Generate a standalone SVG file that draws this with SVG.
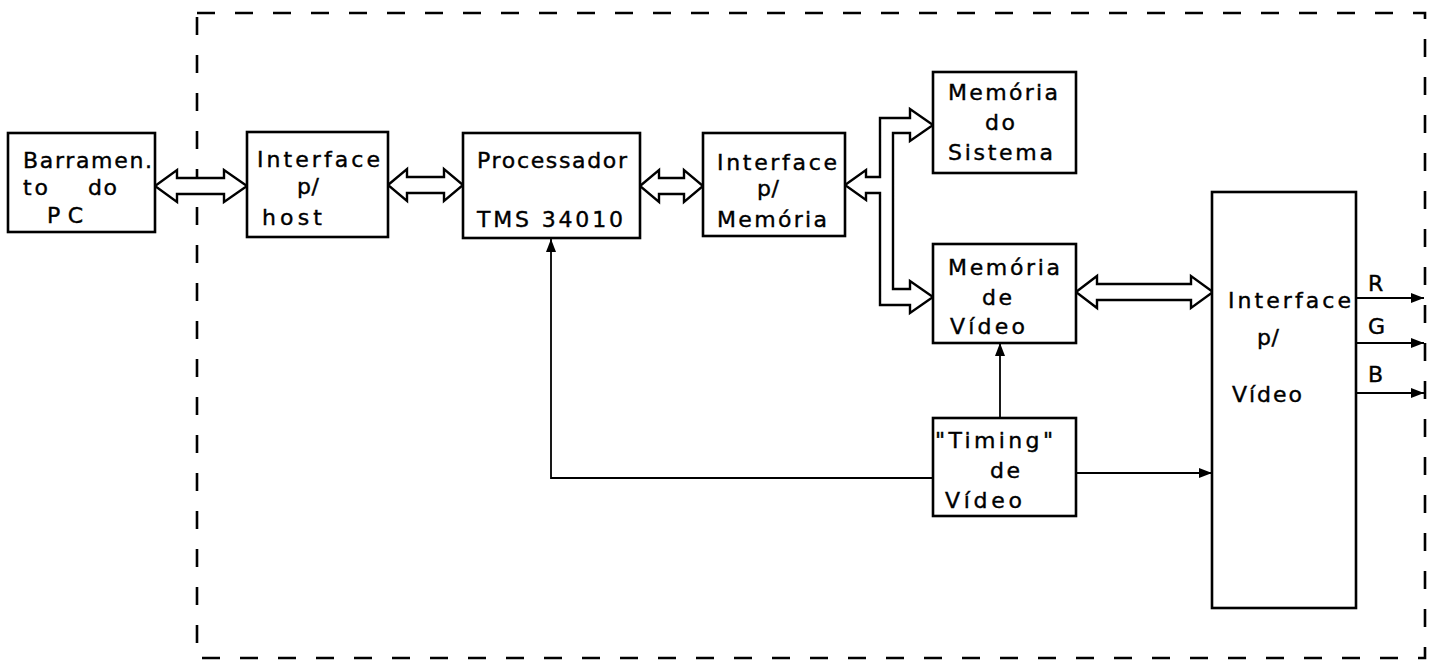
<svg xmlns="http://www.w3.org/2000/svg" width="1438" height="665" viewBox="0 0 1438 665">
<defs>
<style>
.box{fill:#fff;stroke:#000;stroke-width:2.6}
.bus{fill:#fff;stroke:#000;stroke-width:2.4;stroke-linejoin:miter}
.ln{fill:none;stroke:#000;stroke-width:1.8}
.frame{fill:none;stroke:#000;stroke-width:2.6;stroke-dasharray:18 20}
text{font-family:"DejaVu Sans","Liberation Sans",sans-serif;font-size:22px;fill:#000;stroke:#000;stroke-width:0.4}
</style>
<marker id="ah" markerUnits="userSpaceOnUse" markerWidth="14" markerHeight="10" refX="13" refY="5" orient="auto">
<path d="M0,0 L13,5 L0,10 z" fill="#000"/>
</marker>
</defs>
<rect width="1438" height="665" fill="#fff"/>
<g id="frame">
<path class="frame" d="M197,13 H1425 V658 H197 Z"/>
</g>
<g id="connectors">
<polygon class="bus" points="155,186 177,170 177,178 224,178 224,170 247,186 224,202 224,194 177,194 177,202"/>
<polygon class="bus" points="388,185 407,169 407,177 444,177 444,169 463,185 444,201 444,193 407,193 407,201"/>
<polygon class="bus" points="640,186 659,170 659,178 684,178 684,170 703,186 684,202 684,194 659,194 659,202"/>
<polygon class="bus" points="845,185 866,170 866,177 880,177 880,118 910,118 910,109 933,125 910,141 910,133 893,133 893,289 910,289 910,281 933,297 910,313 910,305 880,305 880,193 866,193 866,200"/>
<polygon class="bus" points="1076,292 1097,276 1097,284 1191,284 1191,276 1213,292 1191,308 1191,300 1097,300 1097,308"/>
<polyline class="ln" points="933,478 551,478 551,239" marker-end="url(#ah)"/>
<line class="ln" x1="1000" y1="418" x2="1000" y2="343" marker-end="url(#ah)"/>
<line class="ln" x1="1076" y1="473" x2="1212" y2="473" marker-end="url(#ah)"/>
<line class="ln" x1="1356" y1="298" x2="1424" y2="298" marker-end="url(#ah)"/>
<line class="ln" x1="1356" y1="343" x2="1424" y2="343" marker-end="url(#ah)"/>
<line class="ln" x1="1356" y1="393" x2="1424" y2="393" marker-end="url(#ah)"/>
</g>
<g id="barramento">
<rect class="box" x="8" y="133" width="147" height="99"/>
<text x="23" y="168" textLength="129" lengthAdjust="spacing">Barramen.</text>
<text x="23" y="195" textLength="25" lengthAdjust="spacing">to</text>
<text x="88" y="195" textLength="29" lengthAdjust="spacing">do</text>
<text x="47" y="223" textLength="36" lengthAdjust="spacing">PC</text>
</g>
<g id="interface-host">
<rect class="box" x="247" y="132" width="141" height="105"/>
<text x="257" y="167" textLength="123" lengthAdjust="spacing">Interface</text>
<text x="297" y="194" textLength="22" lengthAdjust="spacing">p/</text>
<text x="262" y="225" textLength="60" lengthAdjust="spacing">host</text>
</g>
<g id="processador">
<rect class="box" x="463" y="133" width="177" height="105"/>
<text x="477" y="168" textLength="150" lengthAdjust="spacing">Processador</text>
<text x="477" y="227" textLength="146" lengthAdjust="spacing">TMS 34010</text>
</g>
<g id="interface-memoria">
<rect class="box" x="703" y="133" width="142" height="103"/>
<text x="717" y="170" textLength="120" lengthAdjust="spacing">Interface</text>
<text x="757" y="196" textLength="22" lengthAdjust="spacing">p/</text>
<text x="717" y="227" textLength="110" lengthAdjust="spacing">Memória</text>
</g>
<g id="memoria-sistema">
<rect class="box" x="933" y="72" width="143" height="101"/>
<text x="948" y="100" textLength="110" lengthAdjust="spacing">Memória</text>
<text x="985" y="130" textLength="30" lengthAdjust="spacing">do</text>
<text x="948" y="160" textLength="105" lengthAdjust="spacing">Sistema</text>
</g>
<g id="memoria-video">
<rect class="box" x="933" y="244" width="143" height="99"/>
<text x="948" y="275" textLength="112" lengthAdjust="spacing">Memória</text>
<text x="982" y="305" textLength="30" lengthAdjust="spacing">de</text>
<text x="950" y="334" textLength="75" lengthAdjust="spacing">Vídeo</text>
</g>
<g id="timing-video">
<rect class="box" x="933" y="418" width="143" height="98"/>
<text x="935" y="448" textLength="118" lengthAdjust="spacing">"Timing"</text>
<text x="990" y="478" textLength="30" lengthAdjust="spacing">de</text>
<text x="945" y="508" textLength="77" lengthAdjust="spacing">Vídeo</text>
</g>
<g id="interface-video">
<rect class="box" x="1212" y="192" width="144" height="416"/>
<text x="1228" y="308" textLength="123" lengthAdjust="spacing">Interface</text>
<text x="1257" y="345" textLength="22" lengthAdjust="spacing">p/</text>
<text x="1232" y="402" textLength="70" lengthAdjust="spacing">Vídeo</text>
</g>
<g id="rgb-labels">
<text x="1368" y="291">R</text>
<text x="1368" y="334">G</text>
<text x="1368" y="382">B</text>
</g>
</svg>
